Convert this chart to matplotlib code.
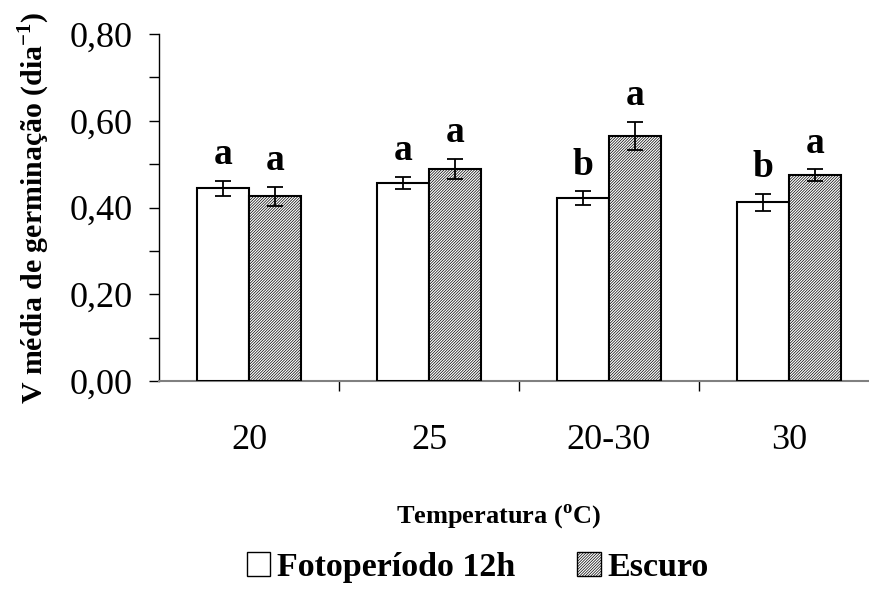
import numpy as np
import matplotlib
matplotlib.use('Agg')
import matplotlib.pyplot as plt
from matplotlib.patches import Patch

# data
temperaturas = ['20', '25', '20-30', '30']
foto_12h = [0.444, 0.457, 0.421, 0.412]
foto_12h_err = [0.018, 0.014, 0.016, 0.020]
escuro = [0.426, 0.489, 0.565, 0.474]
escuro_err = [0.022, 0.023, 0.032, 0.014]
letras_foto = ['a', 'a', 'b', 'b']
letras_escuro = ['a', 'a', 'a', 'a']

plt.rcParams['font.family'] = ['Liberation Serif', 'DejaVu Serif']
plt.rcParams['mathtext.fontset'] = 'custom'
plt.rcParams['mathtext.rm'] = 'Liberation Serif'
plt.rcParams['mathtext.bf'] = 'Liberation Serif:bold'
plt.rcParams['hatch.linewidth'] = 0.5

fig = plt.figure(figsize=(8.7, 6.02), dpi=100)
ax = fig.add_axes([159 / 870, 221 / 602, 720 / 870, 347 / 602])

x = np.arange(len(temperaturas))
w = 0.29

ax.bar(x - w / 2, foto_12h, w, color='white', edgecolor='black', linewidth=1.5, zorder=3)
ax.bar(x + w / 2, escuro, w, color='white', edgecolor='black', hatch='////////////', linewidth=1.5, zorder=3)
ax.errorbar(x - w / 2, foto_12h, yerr=foto_12h_err, fmt='none', ecolor='black',
            elinewidth=1.3, capsize=5.5, capthick=1.3, zorder=4)
ax.errorbar(x + w / 2, escuro, yerr=escuro_err, fmt='none', ecolor='black',
            elinewidth=1.3, capsize=5.5, capthick=1.3, zorder=4)

# significance letters above bars
for i in range(len(x)):
    ax.annotate(letras_foto[i], (x[i] - w / 2, foto_12h[i] + foto_12h_err[i]),
                xytext=(0, 12), textcoords='offset points', ha='center', va='baseline',
                fontsize=27, fontweight='bold')
    ax.annotate(letras_escuro[i], (x[i] + w / 2, escuro[i] + escuro_err[i]),
                xytext=(0, 12), textcoords='offset points', ha='center', va='baseline',
                fontsize=27, fontweight='bold')

ax.set_xlim(-0.5, 3.5)
ax.set_ylim(0, 0.8)
ax.set_yticks(np.arange(0, 0.81, 0.2))
ax.set_yticks(np.arange(0.1, 0.8, 0.2), minor=True)
ax.set_yticklabels([f'{v:.2f}'.replace('.', ',') for v in np.arange(0, 0.81, 0.2)])
ax.tick_params(axis='y', which='both', length=7, width=1, direction='out', pad=12, labelsize=26)

ax.set_xticks([0.5, 1.5, 2.5])
ax.set_xticklabels([])
ax.set_xticks(x, minor=True)
ax.set_xticklabels(temperaturas, minor=True)
ax.tick_params(axis='x', which='major', length=7, width=1, direction='out')
ax.tick_params(axis='x', which='minor', length=0, pad=31, labelsize=26)

for s in ['top', 'right']:
    ax.spines[s].set_visible(False)
ax.spines['left'].set_linewidth(1)
ax.spines['bottom'].set_color('#808080')
ax.spines['bottom'].set_linewidth(1.5)

ax.text(-0.174, 0.5, r'V média de germinação (dia$^{\mathbf{-1}}$)', transform=ax.transAxes,
        rotation=90, ha='center', va='center', fontsize=21.5, fontweight='bold')
ax.text(0.471, -0.39, r'Temperatura ($^{\mathbf{o}}$C)', transform=ax.transAxes,
        ha='center', va='center', fontsize=19, fontweight='bold')

handles = [Patch(facecolor='white', edgecolor='black', linewidth=1),
           Patch(facecolor='white', edgecolor='black', hatch='////////////', linewidth=1)]
fig.legend(handles, ['Fotoperíodo 12h', 'Escuro'], loc='center', bbox_to_anchor=(0.549, 0.058),
           ncol=2, frameon=False, prop={'weight': 'bold', 'size': 24.5},
           handlelength=0.7, handleheight=0.7, handletextpad=0.2, columnspacing=1.8)

plt.savefig('out.png', dpi=100)
